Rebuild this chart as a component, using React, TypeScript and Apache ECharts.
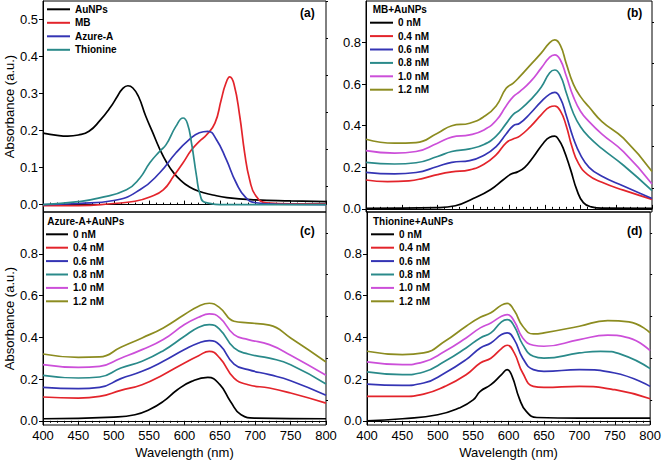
import React, { useEffect, useRef } from "react";
import * as echarts from "echarts";

const FONT = "'Liberation Sans', Arial, sans-serif";

const COLORS = ["#000000", "#e3242b", "#3434b4", "#2a8a8a", "#cc4fd9", "#8c8c20"];

// Panel (a)
const namesA = ["AuNPs", "MB", "Azure-A", "Thionine"];
const colorsA = ["#000000", "#e3242b", "#3434b4", "#2a8a8a"];
const aAuNPs = [[400,0.193],[420,0.187],[435,0.185],[450,0.188],[465,0.198],[480,0.226],[495,0.262],[505,0.292],[512,0.312],[520,0.321],[527,0.315],[535,0.292],[545,0.24],[555,0.195],[565,0.15],[575,0.113],[585,0.085],[595,0.065],[605,0.05],[620,0.036],[640,0.026],[660,0.019],[700,0.013],[750,0.01],[800,0.008]];
const aMB = [[400,-0.003],[450,-0.003],[500,0.003],[530,0.009],[550,0.02],[570,0.04],[585,0.078],[598,0.113],[610,0.148],[621,0.171],[631,0.188],[643,0.22],[652,0.284],[658,0.325],[664,0.345],[670,0.325],[678,0.24],[685,0.14],[692,0.068],[701,0.023],[716,0.005],[750,0.002],[800,0.002]];
const aAzure = [[400,0.0],[450,0.003],[500,0.011],[537,0.04],[565,0.086],[588,0.14],[607,0.176],[621,0.194],[633,0.198],[645,0.176],[659,0.122],[673,0.059],[687,0.018],[701,0.005],[730,0.001],[800,0.0]];
const aThionine = [[400,0.0],[450,0.008],[480,0.018],[518,0.04],[537,0.072],[551,0.113],[565,0.144],[574,0.162],[588,0.212],[598,0.234],[604,0.22],[610,0.165],[617,0.077],[622,0.027],[629,0.006],[660,0.0],[800,0.0]];

// Panels (b)-(d)
const concNames = ["0 nM", "0.4 nM", "0.6 nM", "0.8 nM", "1.0 nM", "1.2 nM"];

const b0 = [[400,0.003],[500,0.006],[525,0.015],[550,0.05],[574,0.092],[592,0.14],[603,0.168],[612,0.178],[622,0.2],[634,0.25],[648,0.316],[657,0.345],[664,0.35],[670,0.33],[676,0.29],[686,0.19],[695,0.09],[704,0.03],[715,0.01],[730,0.004],[800,0.003]];
const b1 = [[400,0.139],[430,0.131],[460,0.135],[480,0.147],[500,0.165],[520,0.178],[545,0.188],[565,0.215],[582,0.26],[596,0.318],[605,0.335],[615,0.35],[630,0.396],[645,0.452],[657,0.49],[664,0.495],[672,0.47],[680,0.4],[688,0.3],[697,0.22],[710,0.165],[730,0.128],[760,0.09],[800,0.046]];
const b2 = [[400,0.176],[440,0.168],[470,0.175],[500,0.204],[520,0.224],[545,0.232],[565,0.258],[582,0.3],[596,0.36],[606,0.4],[615,0.412],[630,0.46],[645,0.516],[657,0.552],[664,0.56],[672,0.53],[680,0.45],[690,0.34],[700,0.26],[712,0.2],[730,0.157],[760,0.11],[800,0.05]];
const b3 = [[400,0.224],[440,0.216],[470,0.222],[500,0.252],[520,0.276],[545,0.289],[565,0.31],[582,0.35],[596,0.41],[606,0.455],[615,0.476],[630,0.524],[645,0.585],[657,0.655],[664,0.668],[672,0.64],[680,0.56],[690,0.46],[700,0.395],[712,0.345],[730,0.29],[760,0.21],[800,0.088]];
const b4 = [[400,0.28],[440,0.268],[470,0.276],[500,0.316],[520,0.345],[545,0.356],[565,0.38],[582,0.425],[596,0.495],[606,0.54],[615,0.564],[630,0.612],[645,0.677],[657,0.73],[664,0.741],[672,0.715],[680,0.64],[690,0.54],[700,0.47],[712,0.42],[730,0.36],[760,0.275],[800,0.12]];
const b5 = [[400,0.335],[440,0.316],[470,0.319],[500,0.364],[520,0.4],[545,0.412],[565,0.444],[582,0.495],[596,0.58],[606,0.605],[615,0.636],[630,0.693],[645,0.749],[657,0.8],[664,0.813],[672,0.785],[680,0.7],[690,0.6],[700,0.54],[712,0.49],[730,0.42],[760,0.34],[800,0.18]];

const c0 = [[400,0.01],[500,0.018],[530,0.029],[550,0.053],[570,0.093],[590,0.149],[610,0.189],[633,0.208],[650,0.173],[665,0.093],[680,0.029],[700,0.013],[800,0.01]];
const c1 = [[400,0.114],[450,0.109],[480,0.117],[510,0.146],[540,0.173],[570,0.221],[600,0.277],[620,0.312],[635,0.333],[650,0.3],[670,0.205],[690,0.173],[720,0.157],[750,0.133],[800,0.085]];
const c2 = [[400,0.16],[450,0.154],[480,0.16],[510,0.202],[540,0.237],[570,0.285],[600,0.341],[620,0.373],[635,0.384],[650,0.362],[670,0.272],[690,0.245],[720,0.221],[750,0.192],[800,0.122]];
const c3 = [[400,0.218],[450,0.205],[480,0.21],[510,0.253],[540,0.285],[570,0.336],[600,0.405],[620,0.448],[635,0.461],[650,0.437],[670,0.349],[690,0.32],[720,0.3],[750,0.269],[800,0.176]];
const c4 = [[400,0.269],[450,0.256],[480,0.261],[510,0.3],[540,0.341],[570,0.389],[600,0.461],[620,0.496],[635,0.512],[650,0.493],[670,0.413],[690,0.389],[720,0.365],[750,0.314],[800,0.218]];
const c5 = [[400,0.32],[450,0.304],[480,0.306],[510,0.352],[540,0.397],[570,0.445],[600,0.509],[620,0.549],[635,0.563],[650,0.541],[670,0.477],[690,0.469],[720,0.458],[750,0.397],[800,0.282]];

const d0 = [[400,0.0],[450,0.01],[500,0.029],[530,0.061],[550,0.1],[560,0.141],[575,0.173],[590,0.221],[598,0.245],[605,0.213],[615,0.109],[625,0.045],[640,0.016],[700,0.013],[800,0.013]];
const d1 = [[400,0.117],[450,0.117],[480,0.128],[510,0.165],[540,0.221],[560,0.277],[575,0.3],[590,0.346],[598,0.362],[608,0.325],[620,0.229],[635,0.165],[650,0.16],[700,0.165],[750,0.149],[800,0.106]];
const d2 = [[400,0.176],[450,0.17],[480,0.181],[510,0.229],[540,0.293],[560,0.349],[575,0.373],[590,0.413],[598,0.421],[608,0.389],[620,0.3],[635,0.245],[650,0.237],[700,0.245],[750,0.229],[800,0.165]];
const d3 = [[400,0.234],[450,0.221],[480,0.234],[510,0.285],[540,0.349],[560,0.397],[575,0.421],[590,0.474],[598,0.485],[608,0.453],[620,0.365],[635,0.309],[650,0.3],[700,0.325],[730,0.333],[760,0.317],[800,0.25]];
const d4 = [[400,0.282],[450,0.269],[480,0.282],[510,0.333],[540,0.397],[560,0.445],[575,0.469],[590,0.501],[598,0.509],[608,0.477],[620,0.397],[635,0.362],[650,0.357],[700,0.389],[740,0.41],[770,0.397],[800,0.336]];
const d5 = [[400,0.333],[450,0.317],[480,0.325],[510,0.381],[540,0.453],[560,0.496],[575,0.517],[590,0.554],[598,0.562],[608,0.528],[620,0.453],[635,0.416],[650,0.421],[700,0.453],[740,0.48],[770,0.474],[800,0.421]];

const seriesA = [aAuNPs, aMB, aAzure, aThionine];
const seriesB = [b0, b1, b2, b3, b4, b5];
const seriesC = [c0, c1, c2, c3, c4, c5];
const seriesD = [d0, d1, d2, d3, d4, d5];

const yMajorA = [0, 0.1, 0.2, 0.3, 0.4, 0.5];
const yMinorA = [0.05, 0.15, 0.25, 0.35, 0.45, 0.55];
const yMajorB = [0, 0.2, 0.4, 0.6, 0.8];
const yMinorB = [0.1, 0.3, 0.5, 0.7, 0.9];

const panelTitles = ["MB+AuNPs", "Azure-A+AuNPs", "Thionine+AuNPs"];
const panelLabels = ["(a)", "(b)", "(c)", "(d)"];

export default function App() {
  const ref = useRef<HTMLDivElement>(null);
  useEffect(() => {
    if (!ref.current) return;
    const chart = echarts.init(ref.current, undefined, { renderer: "svg" });

    const grids = [
      { left: 43, top: 1, width: 283, height: 211 },
      { left: 366, top: 1, width: 286, height: 211 },
      { left: 43, top: 212, width: 283, height: 213 },
      { left: 367, top: 212, width: 285, height: 213 },
    ].map((g) => ({ ...g, show: true, borderColor: "#000", borderWidth: 1, containLabel: false }));

    const xAxes = [0, 1, 2, 3].map((i) => {
      const bottom = i >= 2;
      return {
        type: "value",
        gridIndex: i,
        min: 400,
        max: 800,
        interval: 50,
        name: bottom ? "Wavelength (nm)" : "",
        nameLocation: "middle",
        nameGap: 21,
        nameTextStyle: { fontFamily: FONT, fontSize: 13, color: "#000" },
        axisLine: { show: true, lineStyle: { color: "#000", width: 1 } },
        axisTick: { show: true, inside: !bottom, length: 4, lineStyle: { color: "#000" } },
        minorTick: { show: true, splitNumber: 5, length: 2, lineStyle: { color: "#000" } },
        axisLabel: { show: bottom, margin: 4, fontFamily: FONT, fontSize: 13, color: "#000" },
        splitLine: { show: false },
        minorSplitLine: { show: false },
      };
    });

    const yRanges = [
      { min: -0.02, max: 0.55, major: yMajorA, minor: yMinorA },
      { min: -0.015, max: 1.0, major: yMajorB, minor: yMinorB },
      { min: -0.02, max: 1.0, major: yMajorB, minor: yMinorB },
      { min: -0.02, max: 1.0, major: yMajorB, minor: yMinorB },
    ];
    const yMain = yRanges.map((r, i) => ({
      type: "value",
      gridIndex: i,
      min: r.min,
      max: r.max,
      name: i === 0 || i === 2 ? "Absorbance (a.u.)" : "",
      nameLocation: "middle",
      nameGap: 27,
      nameTextStyle: { fontFamily: FONT, fontSize: 13, color: "#000" },
      axisLine: { show: true, lineStyle: { color: "#000", width: 1 } },
      axisTick: { show: true, length: 4, customValues: r.major, lineStyle: { color: "#000" } },
      axisLabel: {
        show: true,
        margin: 5,
        customValues: r.major,
        formatter: (v: number) => v.toFixed(1),
        fontFamily: FONT,
        fontSize: 13,
        color: "#000",
      },
      splitLine: { show: false },
    }));
    const yMinor = yRanges.map((r, i) => ({
      type: "value",
      gridIndex: i,
      min: r.min,
      max: r.max,
      axisLine: { show: false },
      axisTick: { show: true, length: 2, customValues: r.minor, lineStyle: { color: "#000" } },
      axisLabel: { show: false },
      splitLine: { show: false },
    }));

    const series: any[] = [];
    const mk = (name: string, data: number[][], color: string, idx: number) => ({
      type: "line",
      name,
      data,
      xAxisIndex: idx,
      yAxisIndex: idx,
      showSymbol: false,
      symbol: "none",
      smooth: 0.5,
      color,
      lineStyle: { color, width: 1.7 },
      z: 3,
    });
    seriesA.forEach((d, k) => series.push(mk(namesA[k], d, colorsA[k], 0)));
    [seriesB, seriesC, seriesD].forEach((group, gi) =>
      group.forEach((d, k) => series.push(mk(concNames[k], d, COLORS[k], gi + 1)))
    );

    const legendBase = {
      orient: "vertical",
      padding: 0,
      itemHeight: 10,
      itemGap: 3.4,
      selectedMode: false,
      itemStyle: { opacity: 0 },
      lineStyle: { width: 2 },
      textStyle: { fontFamily: FONT, fontSize: 10, fontWeight: "bold", color: "#000" },
    };
    const legends = [
      { ...legendBase, left: 46, top: 4.3, itemWidth: 23, itemGap: 3.5, data: namesA },
      { ...legendBase, left: 369, top: 17.7, itemWidth: 23, data: concNames },
      { ...legendBase, left: 45, top: 229.3, itemWidth: 22, data: concNames },
      { ...legendBase, left: 370, top: 229.3, itemWidth: 23, data: concNames },
    ];

    const txt = (text: string, x: number, y: number, size: number) => ({
      type: "text",
      x,
      y,
      style: {
        text,
        fontFamily: FONT,
        fontSize: size,
        fontWeight: "bold",
        fill: "#000",
        textVerticalAlign: "middle",
        verticalAlign: "middle",
      },
      z: 10,
    });
    const graphic = [
      txt(panelTitles[0], 372.7, 9.3, 10),
      txt(panelTitles[1], 47.3, 221.7, 10),
      txt(panelTitles[2], 373, 221.7, 10),
      txt(panelLabels[0], 300, 13.3, 12),
      txt(panelLabels[1], 627, 13.3, 12),
      txt(panelLabels[2], 300, 231, 12),
      txt(panelLabels[3], 627, 231, 12),
    ];

    chart.setOption({
      animation: false,
      backgroundColor: "#fff",
      grid: grids,
      xAxis: xAxes,
      yAxis: [...yMain, ...yMinor],
      legend: legends,
      graphic,
      series,
    } as any);
    return () => chart.dispose();
  }, []);
  return (
    <div
      ref={ref}
      style={{ position: "absolute", left: 0, top: 0, width: 664, height: 461 }}
    />
  );
}
